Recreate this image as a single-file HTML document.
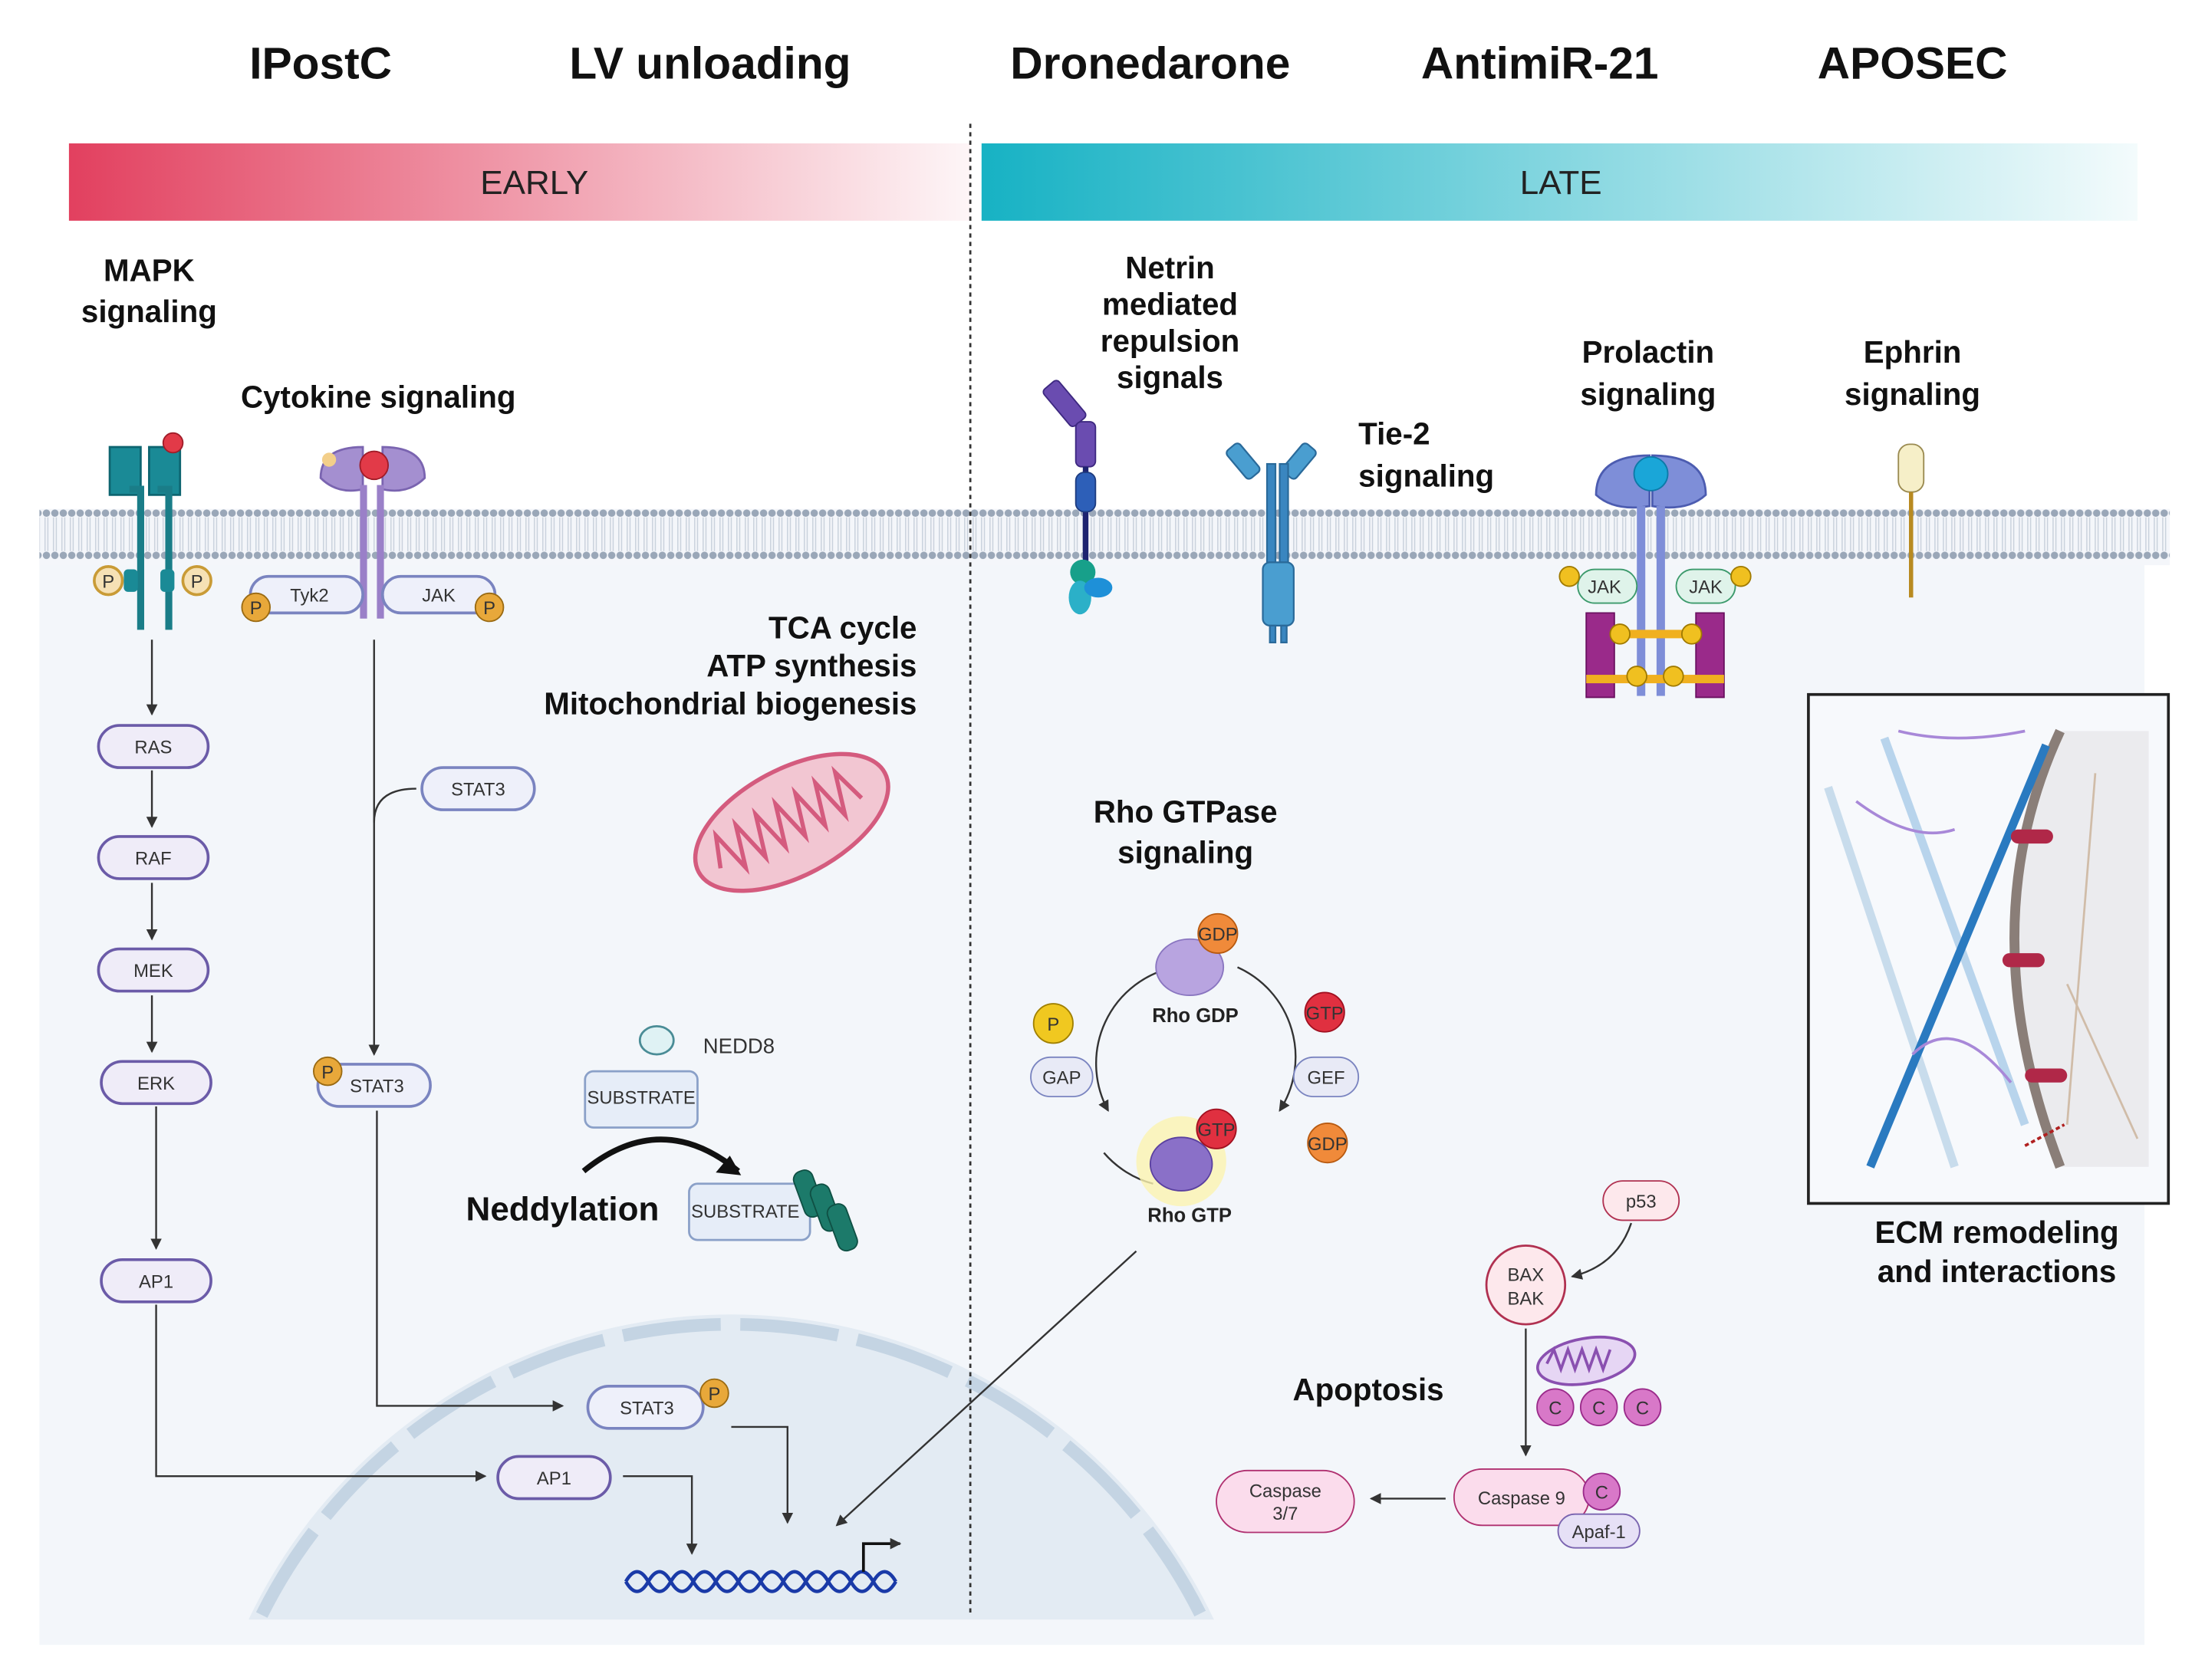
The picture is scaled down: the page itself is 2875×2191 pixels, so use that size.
<!DOCTYPE html>
<html><head><meta charset="utf-8"><style>
html,body{margin:0;padding:0;background:#fff;width:2875px;height:2191px;overflow:hidden}
svg{display:block}
text{font-family:"Liberation Sans",sans-serif}
.h{font-size:32px;font-weight:bold;fill:#111;text-anchor:middle}
.l{font-size:22px;font-weight:bold;fill:#111;text-anchor:middle}
.s{font-size:13px;fill:#333;text-anchor:middle}
.pill{fill:#efecf8;stroke:#6b5ba8;stroke-width:2}
.ln{stroke:#333;stroke-width:1.3;fill:none}
</style></head><body>
<svg width="2875" height="2191" viewBox="0 0 1568 1195" xmlns="http://www.w3.org/2000/svg">
<defs>
<linearGradient id="ge" x1="0" x2="1"><stop offset="0" stop-color="#e2405f"/><stop offset="1" stop-color="#e2405f" stop-opacity="0.05"/></linearGradient>
<linearGradient id="gl" x1="0" x2="1"><stop offset="0" stop-color="#17b2c4"/><stop offset="1" stop-color="#17b2c4" stop-opacity="0.05"/></linearGradient>
<pattern id="mem" width="6" height="40" patternUnits="userSpaceOnUse">
<rect width="6" height="40" fill="#f4f6fa"/>
<circle cx="3" cy="5" r="2.6" fill="#9aa7b8"/>
<circle cx="3" cy="35" r="2.6" fill="#9aa7b8"/>
<line x1="2" y1="8" x2="2" y2="32" stroke="#c9d1dc" stroke-width="0.8"/>
<line x1="4" y1="8" x2="4" y2="32" stroke="#c9d1dc" stroke-width="0.8"/>
</pattern>
<marker id="ar" markerWidth="8" markerHeight="8" refX="7" refY="4" orient="auto" markerUnits="userSpaceOnUse"><path d="M0,0 L8,4 L0,8 z" fill="#333"/></marker>
<clipPath id="nc"><rect x="0" y="0" width="1568" height="1152"/></clipPath>
</defs>
<rect width="1568" height="1195" fill="#fff"/>
<rect x="28" y="395" width="1497" height="775" fill="#f3f6fa"/>
<g clip-path="url(#nc)">
<circle cx="520" cy="1315" r="380" fill="#e3ebf3"/>
<circle cx="520" cy="1315" r="373" fill="none" stroke="#c4d4e3" stroke-width="9" stroke-dasharray="70 14"/>
</g>
<text class="h" x="228" y="56">IPostC</text>
<text class="h" x="505" y="56">LV unloading</text>
<text class="h" x="818" y="56">Dronedarone</text>
<text class="h" x="1095" y="56">AntimiR-21</text>
<text class="h" x="1360" y="56">APOSEC</text>
<rect x="49" y="102" width="641" height="55" fill="url(#ge)"/>
<rect x="698" y="102" width="822" height="55" fill="url(#gl)"/>
<text x="380" y="138" font-size="24" fill="#222" text-anchor="middle">EARLY</text>
<text x="1110" y="138" font-size="24" fill="#222" text-anchor="middle">LATE</text>
<rect x="28" y="362" width="1515" height="40" fill="url(#mem)"/>
<line x1="690" y1="88" x2="690" y2="1150" stroke="#333" stroke-width="1.5" stroke-dasharray="3 3"/>
<text class="l" x="106" y="200">MAPK</text><text class="l" x="106" y="229">signaling</text>
<text class="l" x="269" y="290">Cytokine signaling</text>
<text class="l" x="652" y="454" style="text-anchor:end">TCA cycle</text>
<text class="l" x="652" y="481" style="text-anchor:end">ATP synthesis</text>
<text class="l" x="652" y="508" style="text-anchor:end">Mitochondrial biogenesis</text>
<text class="l" x="832" y="198">Netrin</text><text class="l" x="832" y="224">mediated</text><text class="l" x="832" y="250">repulsion</text><text class="l" x="832" y="276">signals</text>
<text class="l" x="966" y="316" style="text-anchor:start">Tie-2</text><text class="l" x="966" y="346" style="text-anchor:start">signaling</text>
<text class="l" x="1172" y="258">Prolactin</text><text class="l" x="1172" y="288">signaling</text>
<text class="l" x="1360" y="258">Ephrin</text><text class="l" x="1360" y="288">signaling</text>
<text class="l" x="843" y="585">Rho GTPase</text><text class="l" x="843" y="614">signaling</text>
<text x="400" y="868" font-size="24" font-weight="bold" text-anchor="middle" fill="#111">Neddylation</text>
<text class="l" x="973" y="996">Apoptosis</text>
<text class="l" x="1420" y="884">ECM remodeling</text><text class="l" x="1420" y="912">and interactions</text>
<g>
<path d="M78,318 h22 v34 h-22z M106,318 h22 v34 h-22z" fill="#1a8a96" stroke="#0d6570" stroke-width="1.5"/>
<path d="M92,348 h8 v100 M112,348 h8 v100" stroke="#1a7d88" stroke-width="5" fill="none"/>
<circle cx="123" cy="315" r="7" fill="#e23a48" stroke="#a01c28"/>
<circle cx="77" cy="413" r="10" fill="#f6e1b5" stroke="#c99b36" stroke-width="2"/><text x="77" y="418" class="s">P</text>
<circle cx="140" cy="413" r="10" fill="#f6e1b5" stroke="#c99b36" stroke-width="2"/><text x="140" y="418" class="s">P</text>
<rect x="88" y="405" width="10" height="16" rx="3" fill="#1a8a96"/><rect x="114" y="405" width="10" height="16" rx="3" fill="#1a8a96"/>
</g>
<g>
<path d="M228,340 q0,-22 30,-22 v30 q-18,4 -30,-8z M302,340 q0,-22 -30,-22 v30 q18,4 30,-8z" fill="#a48fd0" stroke="#7a64b0" stroke-width="1.5"/>
<circle cx="266" cy="331" r="10" fill="#e23a48" stroke="#a01c28"/>
<circle cx="234" cy="327" r="5" fill="#f3cf8a"/>
<rect x="256" y="345" width="5" height="95" fill="#9a80c8"/><rect x="268" y="345" width="5" height="95" fill="#9a80c8"/>
<rect x="178" y="410" width="80" height="26" rx="13" class="pill" style="fill:#eef0fa;stroke:#7a84c0"/><text x="220" y="428" class="s">Tyk2</text>
<rect x="272" y="410" width="80" height="26" rx="13" class="pill" style="fill:#eef0fa;stroke:#7a84c0"/><text x="312" y="428" class="s">JAK</text>
<circle cx="182" cy="432" r="10" fill="#e8a83a" stroke="#9a6a12"/><text x="182" y="437" class="s" font-size="11">P</text>
<circle cx="348" cy="432" r="10" fill="#e8a83a" stroke="#9a6a12"/><text x="348" y="437" class="s" font-size="11">P</text>
</g>
<g>
<line class="ln" x1="108" y1="455" x2="108" y2="508" marker-end="url(#ar)"/>
<rect class="pill" x="70" y="516" width="78" height="30" rx="15"/><text class="s" x="109" y="536">RAS</text>
<line class="ln" x1="108" y1="548" x2="108" y2="588" marker-end="url(#ar)" stroke-width="2"/>
<rect class="pill" x="70" y="595" width="78" height="30" rx="15"/><text class="s" x="109" y="615">RAF</text>
<line class="ln" x1="108" y1="628" x2="108" y2="668" marker-end="url(#ar)" stroke-width="2"/>
<rect class="pill" x="70" y="675" width="78" height="30" rx="15"/><text class="s" x="109" y="695">MEK</text>
<line class="ln" x1="108" y1="708" x2="108" y2="748" marker-end="url(#ar)" stroke-width="2"/>
<rect class="pill" x="72" y="755" width="78" height="30" rx="15"/><text class="s" x="111" y="775">ERK</text>
<line class="ln" x1="111" y1="787" x2="111" y2="888" marker-end="url(#ar)"/>
<rect class="pill" x="72" y="896" width="78" height="30" rx="15"/><text class="s" x="111" y="916">AP1</text>
<path class="ln" d="M111,928 V1050 H345" marker-end="url(#ar)"/>
<rect class="pill" x="354" y="1036" width="80" height="30" rx="15"/><text class="s" x="394" y="1056">AP1</text>
<path class="ln" d="M443,1050 H492 V1105" marker-end="url(#ar)"/>
</g>
<g>
<line class="ln" x1="266" y1="455" x2="266" y2="750" marker-end="url(#ar)"/>
<path class="ln" d="M266,585 q0,-24 30,-24"/>
<rect class="pill" x="300" y="546" width="80" height="30" rx="15" style="fill:#eef0fa;stroke:#7a84c0"/><text class="s" x="340" y="566">STAT3</text>
<rect class="pill" x="226" y="757" width="80" height="30" rx="15" style="fill:#eef0fa;stroke:#7a84c0"/><text class="s" x="268" y="777">STAT3</text>
<circle cx="233" cy="762" r="10" fill="#e8a83a" stroke="#9a6a12"/><text x="233" y="767" class="s" font-size="11">P</text>
<path class="ln" d="M268,790 V1000 H400" marker-end="url(#ar)"/>
<rect class="pill" x="418" y="986" width="82" height="30" rx="15" style="fill:#eef0fa;stroke:#7a84c0"/><text class="s" x="460" y="1006">STAT3</text>
<circle cx="508" cy="991" r="10" fill="#e8a83a" stroke="#9a6a12"/><text x="508" y="996" class="s" font-size="11">P</text>
<path class="ln" d="M520,1015 H560 V1083" marker-end="url(#ar)"/>
</g>
<g stroke="#1a3aa8" stroke-width="2.5" fill="none">
<path d="M445,1125 q8,-14 16,0 t16,0 t16,0 t16,0 t16,0 t16,0 t16,0 t16,0 t16,0 t16,0 t16,0 t16,0"/>
<path d="M445,1125 q8,14 16,0 t16,0 t16,0 t16,0 t16,0 t16,0 t16,0 t16,0 t16,0 t16,0 t16,0 t16,0"/>
</g>
<path d="M614,1118 V1098 H640" stroke="#111" stroke-width="2" fill="none" marker-end="url(#ar)"/>
<line class="ln" x1="808" y1="890" x2="595" y2="1085" marker-end="url(#ar)"/>
<g transform="translate(563,585) rotate(-28)">
<ellipse rx="75" ry="38" fill="#f2c6d2" stroke="#d45b7e" stroke-width="3"/>
<path d="M-60,5 l8,-22 l8,30 l8,-30 l8,30 l8,-30 l8,30 l8,-30 l8,30 l8,-30 l8,30 l8,-30 l8,30 l8,-30 l8,25" fill="none" stroke="#d45b7e" stroke-width="3"/>
</g>
<ellipse cx="467" cy="740" rx="12" ry="10" fill="#dff2f4" stroke="#4a8c96" stroke-width="1.5"/>
<text x="500" y="749" font-size="15" fill="#333">NEDD8</text>
<rect x="416" y="762" width="80" height="40" rx="6" fill="#e6edf8" stroke="#8aa0c8" stroke-width="1.5"/><text class="s" x="456" y="785" font-size="11">SUBSTRATE</text>
<path d="M415,833 q55,-45 110,0" stroke="#111" stroke-width="4" fill="none"/><path d="M527,836 l-18,-2 l10,-12z" fill="#111"/>
<rect x="490" y="842" width="86" height="40" rx="6" fill="#e6edf8" stroke="#8aa0c8" stroke-width="1.5"/><text class="s" x="530" y="866" font-size="11">SUBSTRATE</text>
<g fill="#1c7a6a" stroke="#0f5044"><rect x="568" y="832" width="14" height="34" rx="6" transform="rotate(-20 575 849)"/><rect x="580" y="842" width="14" height="34" rx="6" transform="rotate(-20 587 859)"/><rect x="592" y="856" width="14" height="34" rx="6" transform="rotate(-20 599 873)"/></g>
<g>
<rect x="750" y="270" width="14" height="34" rx="3" fill="#6a4cb0" stroke="#3d2880" transform="rotate(-40 757 287)"/>
<rect x="765" y="300" width="14" height="32" rx="4" fill="#6a4cb0" stroke="#3d2880"/>
<line x1="772" y1="332" x2="772" y2="410" stroke="#1e2470" stroke-width="4"/>
<rect x="765" y="336" width="14" height="28" rx="6" fill="#2d5fb8" stroke="#1e3c80"/>
<circle cx="770" cy="407" r="9" fill="#17a08a"/><ellipse cx="768" cy="425" rx="8" ry="12" fill="#2bb0c8"/><ellipse cx="781" cy="418" rx="10" ry="7" fill="#1e90d8"/>
</g>
<g stroke="#2a6a9a" stroke-width="1.2">
<rect x="878" y="315" width="12" height="26" rx="3" fill="#4a9ed0" transform="rotate(-40 884 328)"/>
<rect x="918" y="315" width="12" height="26" rx="3" fill="#4a9ed0" transform="rotate(40 924 328)"/>
<rect x="901" y="330" width="6" height="70" fill="#3a86c0"/><rect x="910" y="330" width="6" height="70" fill="#3a86c0"/>
<rect x="898" y="400" width="22" height="45" rx="5" fill="#4a9ed0"/>
<rect x="903" y="445" width="4" height="12" fill="#3a86c0"/><rect x="911" y="445" width="4" height="12" fill="#3a86c0"/>
</g>
<g>
<path d="M1135,352 q0,-28 38,-28 v36 q-25,4 -38,-8z M1213,352 q0,-28 -38,-28 v36 q25,4 38,-8z" fill="#7e8ed8" stroke="#4c5cb0" stroke-width="1.5"/>
<circle cx="1174" cy="337" r="12" fill="#1aa6d8" stroke="#0d7aa8"/>
<rect x="1164" y="360" width="6" height="135" fill="#7e8ed8"/><rect x="1178" y="360" width="6" height="135" fill="#7e8ed8"/>
<rect x="1122" y="405" width="42" height="24" rx="12" fill="#dff3ea" stroke="#3c9a6c"/><text class="s" x="1141" y="422">JAK</text>
<rect x="1192" y="405" width="42" height="24" rx="12" fill="#dff3ea" stroke="#3c9a6c"/><text class="s" x="1213" y="422">JAK</text>
<circle cx="1116" cy="410" r="7" fill="#f0c020" stroke="#a07a00"/><circle cx="1238" cy="410" r="7" fill="#f0c020" stroke="#a07a00"/>
<path d="M1128,436 h20 v60 h-20z M1206,436 h20 v60 h-20z" fill="#9a2a8a" stroke="#6a1060"/>
<rect x="1148" y="448" width="58" height="6" fill="#f0b020"/><rect x="1128" y="480" width="98" height="6" fill="#f0b020"/>
<g fill="#f0c020" stroke="#a07a00"><circle cx="1152" cy="451" r="7"/><circle cx="1203" cy="451" r="7"/><circle cx="1164" cy="481" r="7"/><circle cx="1190" cy="481" r="7"/></g>
</g>
<rect x="1350" y="316" width="18" height="34" rx="8" fill="#f6efc8" stroke="#9a8a50"/>
<line x1="1359" y1="350" x2="1359" y2="425" stroke="#b88a20" stroke-width="3"/>
<g>
<path d="M835,688 A70,70 0 0 0 788,790" class="ln" marker-end="url(#ar)"/>
<path d="M880,688 A70,70 0 0 1 910,790" class="ln" marker-end="url(#ar)"/>
<path d="M820,842 A70,70 0 0 1 785,820" class="ln"/>
<ellipse cx="846" cy="688" rx="24" ry="20" fill="#b8a4e0" stroke="#8a76c0"/>
<circle cx="866" cy="664" r="14" fill="#f08a3a" stroke="#b85a10"/><text class="s" x="866" y="669" font-size="11" fill="#fff">GDP</text>
<text x="850" y="727" font-size="14" font-weight="bold" text-anchor="middle" fill="#222">Rho GDP</text>
<circle cx="840" cy="826" r="32" fill="#fbf4b0" opacity="0.8"/>
<ellipse cx="840" cy="828" rx="22" ry="19" fill="#8a70c8" stroke="#5a40a0"/>
<circle cx="865" cy="803" r="14" fill="#e03040" stroke="#a01020"/><text class="s" x="865" y="808" font-size="11" fill="#fff">GTP</text>
<text x="846" y="869" font-size="14" font-weight="bold" text-anchor="middle" fill="#222">Rho GTP</text>
<circle cx="749" cy="728" r="14" fill="#f0c820" stroke="#a08000"/><text class="s" x="749" y="733">P</text>
<rect x="733" y="752" width="44" height="28" rx="14" fill="#e8eaf6" stroke="#7a84c0"/><text class="s" x="755" y="771" font-size="14">GAP</text>
<circle cx="942" cy="720" r="14" fill="#e03040" stroke="#a01020"/><text class="s" x="942" y="725" font-size="11" fill="#fff">GTP</text>
<rect x="920" y="752" width="46" height="28" rx="14" fill="#e8eaf6" stroke="#7a84c0"/><text class="s" x="943" y="771" font-size="14">GEF</text>
<circle cx="944" cy="813" r="14" fill="#f08a3a" stroke="#b85a10"/><text class="s" x="944" y="818" font-size="11" fill="#fff">GDP</text>
</g>
<g>
<rect x="1140" y="840" width="54" height="28" rx="14" fill="#fde8ec" stroke="#b03050"/><text class="s" x="1167" y="859">p53</text>
<path class="ln" d="M1160,870 q-10,30 -42,38" marker-end="url(#ar)"/>
<circle cx="1085" cy="914" r="28" fill="#fde8ec" stroke="#b03050" stroke-width="1.5"/><text class="s" x="1085" y="911">BAX</text><text class="s" x="1085" y="928">BAK</text>
<line class="ln" x1="1085" y1="945" x2="1085" y2="1035" marker-end="url(#ar)"/>
<ellipse cx="1128" cy="968" rx="35" ry="16" fill="#e6d6f4" stroke="#8a50b0" stroke-width="2" transform="rotate(-10 1128 968)"/>
<path d="M1100,970 l5,-10 l5,14 l5,-14 l5,14 l5,-14 l5,14 l5,-14 l5,14 l5,-14" stroke="#8a50b0" fill="none" stroke-width="2"/>
<g fill="#d878c8" stroke="#9a2a8a"><circle cx="1106" cy="1001" r="13"/><circle cx="1137" cy="1001" r="13"/><circle cx="1168" cy="1001" r="13"/></g>
<text class="s" x="1106" y="1006" fill="#fff">C</text><text class="s" x="1137" y="1006" fill="#fff">C</text><text class="s" x="1168" y="1006" fill="#fff">C</text>
<rect x="1034" y="1045" width="96" height="40" rx="20" fill="#fbdcec" stroke="#b03070"/><text class="s" x="1082" y="1070">Caspase 9</text>
<circle cx="1139" cy="1061" r="13" fill="#d878c8" stroke="#9a2a8a"/><text class="s" x="1139" y="1066" fill="#fff">C</text>
<rect x="1108" y="1077" width="58" height="24" rx="12" fill="#e6e0f6" stroke="#7a64b0"/><text class="s" x="1137" y="1094">Apaf-1</text>
<line class="ln" x1="1028" y1="1066" x2="975" y2="1066" marker-end="url(#ar)"/>
<rect x="865" y="1046" width="98" height="44" rx="22" fill="#fbdcec" stroke="#b03070"/><text class="s" x="914" y="1065">Caspase</text><text class="s" x="914" y="1081">3/7</text>
</g>
<rect x="1286" y="494" width="256" height="362" fill="#f7f9fc" stroke="#222" stroke-width="2"/>
<path d="M1465,520 Q1400,660 1465,830 L1528,830 L1528,520z" fill="#ebebee"/>
<path d="M1465,520 Q1400,660 1465,830" fill="none" stroke="#8a7e78" stroke-width="7"/>
<path d="M1300,560 L1390,830" stroke="#c8dcec" stroke-width="6"/>
<path d="M1340,525 L1440,800" stroke="#b8d4ec" stroke-width="6"/>
<path d="M1330,830 L1455,530" stroke="#2a7ac0" stroke-width="6"/>
<path d="M1350,520 q40,10 90,0 M1320,570 q40,30 70,20 M1430,770 q-40,-50 -70,-20" stroke="#a888d8" stroke-width="2" fill="none"/>
<g fill="#b02848"><rect x="1430" y="590" width="30" height="10" rx="5"/><rect x="1424" y="678" width="30" height="10" rx="5"/><rect x="1440" y="760" width="30" height="10" rx="5"/></g>
<path d="M1490,550 L1470,800 M1470,700 L1520,810" stroke="#d0bca8" stroke-width="1.5" fill="none"/>
<line x1="1440" y1="815" x2="1468" y2="800" stroke="#b02020" stroke-width="2" stroke-dasharray="3 2"/>
</svg>
</body></html>
